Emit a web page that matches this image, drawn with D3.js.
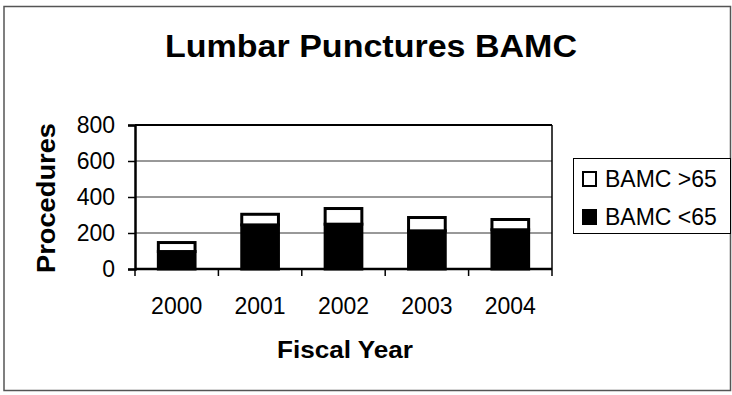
<!DOCTYPE html>
<html><head><meta charset="utf-8">
<script src="https://cdn.jsdelivr.net/npm/d3@7"></script>
<style>body{margin:0;background:#fff}svg{display:block;font-family:"Liberation Sans",Arial,sans-serif}</style>
</head><body>
<svg id="c" width="732" height="395"></svg>
<script>
const years = ["2000","2001","2002","2003","2004"];
const under65 = [97, 245, 249, 212, 218];
const over65 = [50, 59, 87, 74, 57];
const yTicks = [0,200,400,600,800];
const seriesNames = ["BAMC >65","BAMC <65"];

const svg = d3.select("#c");
const L=135, R=552, T=125, B=269;
// outer border
svg.append("rect").attr("x",4).attr("y",6.5).attr("width",726.5).attr("height",384)
  .attr("fill","none").attr("stroke","#555").attr("stroke-width",1.5);

const x = d3.scaleBand().domain(years).range([L,R]).padding(0);
const y = d3.scaleLinear().domain([0,800]).range([B,T]);

// gridlines
svg.append("g").selectAll("line").data(yTicks.filter(d=>d>0&&d<800)).join("line")
  .attr("x1",L).attr("x2",R).attr("y1",d=>y(d)).attr("y2",d=>y(d))
  .attr("stroke","#333").attr("stroke-width",1);
// frame top & right
svg.append("line").attr("x1",L).attr("x2",R).attr("y1",T).attr("y2",T).attr("stroke","#000").attr("stroke-width",2);
svg.append("line").attr("x1",R).attr("x2",R).attr("y1",T).attr("y2",B).attr("stroke","#000").attr("stroke-width",1.5);

// bars
const bw = x.bandwidth()*0.44;
const g = svg.append("g");
years.forEach((yr,i)=>{
  const cx = x(yr)+x.bandwidth()/2;
  g.append("rect").attr("x",cx-bw/2).attr("width",bw)
    .attr("y",y(under65[i])).attr("height",y(0)-y(under65[i]))
    .attr("fill","#000").attr("stroke","#000").attr("stroke-width",3);
  g.append("rect").attr("x",cx-bw/2).attr("width",bw)
    .attr("y",y(under65[i]+over65[i])).attr("height",y(under65[i])-y(under65[i]+over65[i]))
    .attr("fill","#fff").attr("stroke","#000").attr("stroke-width",3);
});

// y axis
const ya = svg.append("g").attr("transform",`translate(${L},0)`)
  .call(d3.axisLeft(y).tickValues(yTicks).tickSize(7).tickPadding(13));
ya.select(".domain").attr("stroke-width",2.5);
ya.selectAll(".tick line").attr("stroke-width",1.5);
ya.selectAll("text").attr("font-size",23).attr("font-family","Liberation Sans").attr("fill","#000");

// x axis
const xa = svg.append("g").attr("transform",`translate(0,${B})`);
xa.append("line").attr("x1",L).attr("x2",R).attr("stroke","#000").attr("stroke-width",2.5);
const bounds = years.map(d=>x(d)).concat([R]);
xa.selectAll("line.t").data(bounds).join("line").attr("class","t")
  .attr("x1",d=>d).attr("x2",d=>d).attr("y1",0).attr("y2",7).attr("stroke","#000").attr("stroke-width",1.5);
xa.selectAll("text").data(years).join("text")
  .attr("x",d=>x(d)+x.bandwidth()/2).attr("y",45).attr("text-anchor","middle")
  .attr("font-size",23).text(d=>d);

// titles
svg.append("text").attr("x",371).attr("y",57).attr("text-anchor","middle")
  .attr("font-size",32).attr("font-weight","bold").attr("textLength",412).attr("lengthAdjust","spacingAndGlyphs")
  .text("Lumbar Punctures BAMC");
svg.append("text").attr("x",345).attr("y",358).attr("text-anchor","middle")
  .attr("font-size",23).attr("font-weight","bold").attr("textLength",136).attr("lengthAdjust","spacingAndGlyphs")
  .text("Fiscal Year");
svg.append("text").attr("transform","translate(55,198) rotate(-90)").attr("text-anchor","middle")
  .attr("font-size",25).attr("font-weight","bold").attr("textLength",150).attr("lengthAdjust","spacingAndGlyphs")
  .text("Procedures");

// legend
const lg = svg.append("g");
lg.append("rect").attr("x",573.5).attr("y",158.5).attr("width",157).attr("height",75)
  .attr("fill","#fff").attr("stroke","#000").attr("stroke-width",1);
const fills = ["#fff","#000"];
const ly = [187, 225];
seriesNames.forEach((n,i)=>{
  lg.append("rect").attr("x",583).attr("y",ly[i]-15).attr("width",13).attr("height",14)
    .attr("fill",fills[i]).attr("stroke","#000").attr("stroke-width",2);
  lg.append("text").attr("x",605).attr("y",ly[i]).attr("font-size",23).text(n);
});
</script>
</body></html>
